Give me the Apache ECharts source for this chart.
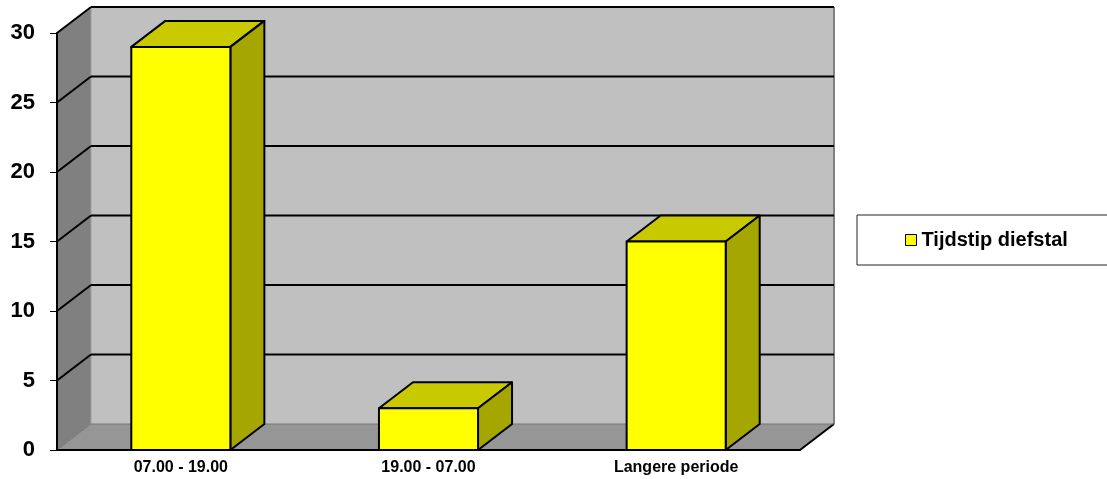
<!DOCTYPE html>
<html>
<head>
<meta charset="utf-8" />
<script src="https://cdn.jsdelivr.net/npm/echarts@6/dist/echarts.min.js"></script>
<style>
    html,
    body {
        margin: 0;
        padding: 0;
        background: #fff;
    }
    #chart {
        width: 1107px;
        height: 479px;
    }
</style>
</head>
<body>
<div id="chart"></div>
<script>
const categories = ['07.00 - 19.00', '19.00 - 07.00', 'Langere periode'];
const values = [29, 3, 15];
const yTicks = [0, 5, 10, 15, 20, 25, 30];
const seriesName = 'Tijdstip diefstal';

// depth of the 3d box (pixels)
const DX = 34;
const DY = -26;

let myChart = echarts.init(document.getElementById('chart'));

// back wall, left wall and floor
function renderWalls(params, api) {
    const cs = params.coordSys;
    const l = cs.x, t = cs.y, r = cs.x + cs.width, b = cs.y + cs.height;
    return {
        type: 'group',
        children: [
            { type: 'rect', shape: { x: l + DX, y: t + DY, width: r - l, height: b - t }, style: { fill: '#C0C0C0' } },
            { type: 'polygon', shape: { points: [[l, t], [l + DX, t + DY], [l + DX, b + DY], [l, b]] }, style: { fill: '#808080' } },
            { type: 'polygon', shape: { points: [[l, b], [l + DX, b + DY], [r + DX, b + DY], [r, b]] }, style: { fill: '#969696' } },
            { type: 'line', shape: { x1: l + DX, y1: t + DY, x2: l + DX, y2: b + DY }, style: { stroke: '#A0A0A0', lineWidth: 1 } },
            { type: 'line', shape: { x1: r + DX, y1: t + DY, x2: r + DX, y2: b + DY }, style: { stroke: '#808080', lineWidth: 2 } },
            { type: 'line', shape: { x1: r, y1: b, x2: r + DX, y2: b + DY }, style: { stroke: '#000', lineWidth: 2 } },
        ],
    };
}

// gridlines on the left wall and back wall
function renderGrid(params, api) {
    const cs = params.coordSys;
    const y = api.coord([0, api.value(1)])[1];
    const l = cs.x, r = cs.x + cs.width;
    const zero = api.value(1) === 0;
    const style = zero ? { stroke: '#777', lineWidth: 1 } : { stroke: '#000', lineWidth: 2 };
    return {
        type: 'group',
        children: [
            { type: 'line', shape: { x1: l, y1: y, x2: l + DX, y2: y + DY }, style: style },
            { type: 'line', shape: { x1: l + DX, y1: y + DY, x2: r + DX, y2: y + DY }, style: style },
        ],
    };
}

// 3d bar: top, side, front
function renderBar(params, api) {
    const top = api.coord([api.value(0), api.value(1)]);
    const base = api.coord([api.value(0), 0]);
    const w = api.size([1, 0])[0] * 0.4;
    const x0 = top[0] - w / 2, x1 = top[0] + w / 2, y0 = base[1], y1 = top[1];
    const line = { stroke: '#000', lineWidth: 2, lineJoin: 'round' };
    return {
        type: 'group',
        children: [
            { type: 'polygon', shape: { points: [[x0, y1], [x1, y1], [x1 + DX, y1 + DY], [x0 + DX, y1 + DY]] }, style: Object.assign({ fill: '#C9C900' }, line) },
            { type: 'polygon', shape: { points: [[x1, y1], [x1 + DX, y1 + DY], [x1 + DX, y0 + DY], [x1, y0]] }, style: Object.assign({ fill: '#A6A600' }, line) },
            { type: 'rect', shape: { x: x0, y: y1, width: w, height: y0 - y1 }, style: Object.assign({ fill: '#FFFF00' }, line) },
        ],
    };
}

myChart.setOption({
    animation: false,
    grid: {
        left: 57,
        right: 307,
        top: 33,
        bottom: 29,
    },
    legend: {
        data: [{ name: seriesName, icon: 'rect' }],
        left: 857,
        top: 215,
        itemWidth: 11,
        itemHeight: 11,
        padding: [15, 40, 15, 48],
        borderColor: '#222',
        borderWidth: 1,
        itemStyle: {
            borderColor: '#000',
            borderWidth: 1,
        },
        textStyle: {
            fontFamily: 'Arial',
            fontSize: 20,
            fontWeight: 'bold',
            color: '#000',
        },
    },
    xAxis: {
        type: 'category',
        data: categories,
        z: 10,
        axisLine: {
            lineStyle: { color: '#000', width: 2 },
        },
        axisTick: {
            length: 4,
            lineStyle: { color: '#000', width: 1 },
        },
        axisLabel: {
            margin: 10,
            fontFamily: 'Arial',
            fontSize: 16,
            fontWeight: 'bold',
            color: '#000',
        },
    },
    yAxis: {
        type: 'value',
        min: 0,
        max: 30,
        interval: 5,
        z: 10,
        splitLine: { show: false },
        axisLine: {
            show: true,
            lineStyle: { color: '#000', width: 2 },
        },
        axisTick: {
            show: true,
            length: 7,
            lineStyle: { color: '#000', width: 1 },
        },
        axisLabel: {
            margin: 22,
            fontFamily: 'Arial',
            fontSize: 22,
            fontWeight: 'bold',
            color: '#000',
        },
    },
    series: [
        {
            name: 'walls',
            type: 'custom',
            z: 1,
            silent: true,
            renderItem: renderWalls,
            data: [[0, 0]],
        },
        {
            name: 'grid',
            type: 'custom',
            z: 2,
            silent: true,
            renderItem: renderGrid,
            data: yTicks.map((v) => [0, v]),
        },
        {
            name: seriesName,
            type: 'custom',
            z: 3,
            itemStyle: { color: '#FFFF00' },
            renderItem: renderBar,
            data: values.map((v, i) => [i, v]),
        },
    ],
});
</script>
</body>
</html>
